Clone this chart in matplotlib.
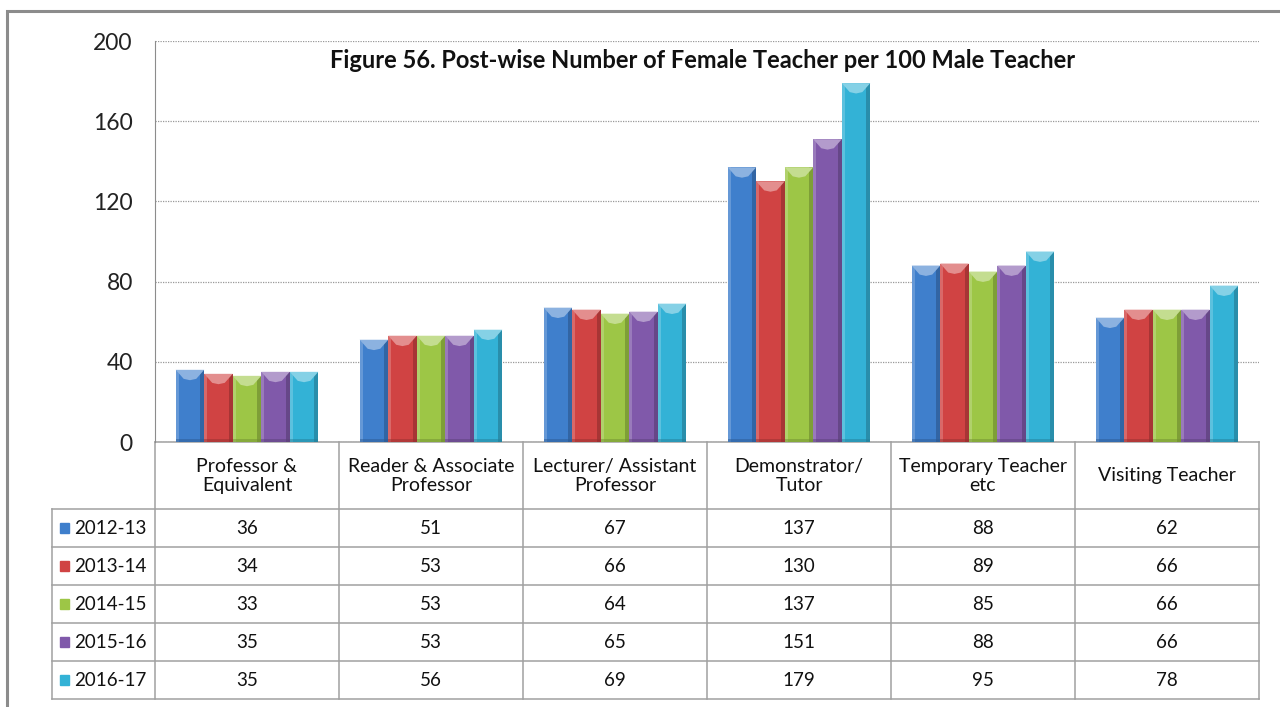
import matplotlib.pyplot as plt
import matplotlib.colors as mcolors
from matplotlib.patches import Rectangle, Polygon
from matplotlib.transforms import blended_transform_factory

plt.rcParams['font.family'] = ['Lato', 'DejaVu Sans']

posts = ["Professor &\nEquivalent", "Reader & Associate\nProfessor",
         "Lecturer/ Assistant\nProfessor", "Demonstrator/\nTutor",
         "Temporary Teacher\netc", "Visiting Teacher"]
years = ["2012-13", "2013-14", "2014-15", "2015-16", "2016-17"]
v2012 = [36, 51, 67, 137, 88, 62]
v2013 = [34, 53, 66, 130, 89, 66]
v2014 = [33, 53, 64, 137, 85, 66]
v2015 = [35, 53, 65, 151, 88, 66]
v2016 = [35, 56, 69, 179, 95, 78]
series = [v2012, v2013, v2014, v2015, v2016]
colors = ["#3F7FCC", "#D04343", "#9DC646", "#8059AA", "#33B2D6"]

W, H = 1280, 707
fig = plt.figure(figsize=(W / 100, H / 100), dpi=100)

# outer chart frame
fig.patches.append(Rectangle((7 / W, -0.05), 1.1, 1 - 11 / H + 0.05,
                             transform=fig.transFigure, fill=False,
                             edgecolor="#8c8c8c", lw=2.2))

left, right, top, bottom = 155, 1259, 41, 442
ax = fig.add_axes([left / W, 1 - bottom / H, (right - left) / W, (bottom - top) / H])

n = len(posts)
bw = 0.155
for j, (vals, c) in enumerate(zip(series, colors)):
    light = mcolors.to_rgb(c)
    light = tuple(min(1, x + (1 - x) * 0.4) for x in light)
    dark = tuple(x * 0.72 for x in mcolors.to_rgb(c))
    for i, v in enumerate(vals):
        x0 = i + (j - 2) * bw - bw / 2
        ax.bar(x0 + bw / 2, v, width=bw, color=c, zorder=3)
        # bevel shading: light left edge, dark right edge, light top wedge
        ax.bar(x0 + bw * 0.05, v, width=bw * 0.10, color=light, alpha=0.5, zorder=4)
        ax.bar(x0 + bw * 0.93, v, width=bw * 0.14, color=dark, alpha=0.7, zorder=4)
        ax.bar(x0 + bw / 2, 1.5, width=bw, color=dark, alpha=0.5, zorder=4)
        d = 4.5
        ax.add_patch(Polygon([(x0, v), (x0 + bw, v), (x0 + bw * 0.72, v - d),
                              (x0 + bw * 0.5, v - d * 1.15), (x0 + bw * 0.28, v - d)],
                             closed=True, color=light, zorder=5, lw=0))

ax.set_xlim(-0.5, n - 0.5)
ax.set_ylim(0, 200)
ax.set_yticks(range(0, 201, 40))
ax.set_xticks([])
ax.tick_params(axis='y', length=0, labelsize=16.5, pad=16, colors="#222222")
ax.yaxis.grid(True, linestyle=(0, (1, 1)), color="#999999", lw=0.9)
ax.set_axisbelow(True)
for s in ["top", "right", "bottom"]:
    ax.spines[s].set_visible(False)
ax.spines["left"].set_color("#8c8c8c")

fig.text(703 / W, 1 - 61 / H,
         "Figure 56. Post-wise Number of Female Teacher per 100 Male Teacher",
         ha="center", va="center", fontsize=17, fontweight="bold", color="#111111")

# data table below the plot
tr = blended_transform_factory(ax.transAxes, fig.transFigure)
def fy(p):
    return 1 - p / H

lc = "#a0a0a0"
row_edges = [442, 509, 547, 585, 623, 661, 699]
xl = (52 - left) / (right - left)
for k, yp in enumerate(row_edges):
    x_start = 0 if k == 0 else xl
    ax.plot([x_start, 1], [fy(yp)] * 2, transform=tr, color=lc, lw=1.1, clip_on=False)
for i in range(n + 1):
    ax.plot([i / n] * 2, [fy(442), fy(699)], transform=tr, color=lc, lw=1.1, clip_on=False)
ax.plot([xl] * 2, [fy(509), fy(699)], transform=tr, color=lc, lw=1.1, clip_on=False)

for i, p in enumerate(posts):
    ax.text((i + 0.5) / n, fy(476), p, transform=tr, ha="center", va="center",
            fontsize=14, color="#111111", linespacing=1.1)

for j, (yr, vals, c) in enumerate(zip(years, series, colors)):
    yc = fy((row_edges[j + 1] + row_edges[j + 2]) / 2)
    ax.add_patch(Rectangle(((60 - left) / (right - left), yc - 5 / H), 9 / (right - left), 10 / H,
                           transform=tr, color=c, clip_on=False))
    ax.text((74 - left) / (right - left), yc, yr, transform=tr, ha="left", va="center",
            fontsize=13.5, color="#111111")
    for i, v in enumerate(vals):
        ax.text((i + 0.5) / n, yc, str(v), transform=tr, ha="center", va="center",
                fontsize=13.5, color="#111111")

fig.savefig("out.png", dpi=100)
